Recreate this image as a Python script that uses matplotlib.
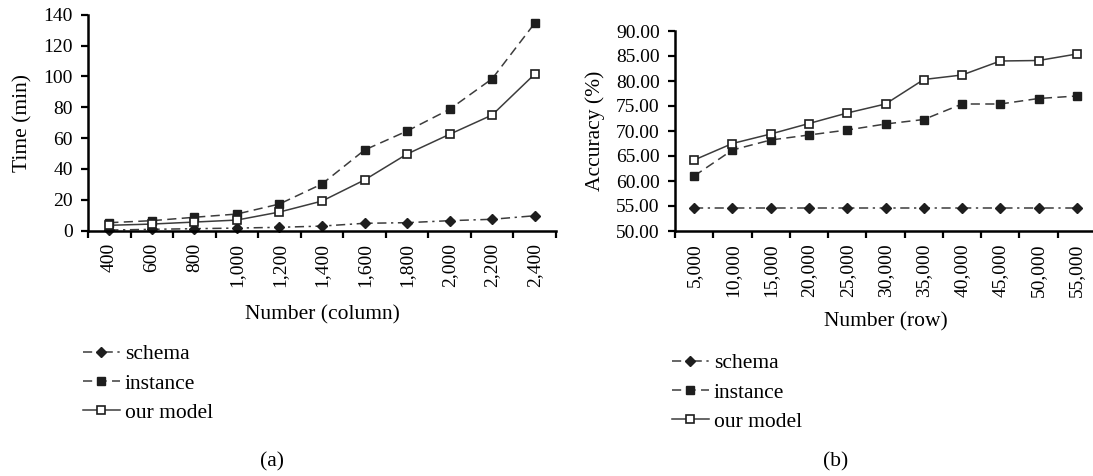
import matplotlib
matplotlib.use("Agg")
import matplotlib.pyplot as plt
import numpy as np
from matplotlib.lines import Line2D
from matplotlib.ticker import FormatStrFormatter

plt.rcParams['font.family'] = ['Liberation Serif', 'DejaVu Serif']

# (a) running time vs number of columns
col_labels = ['400', '600', '800', '1,000', '1,200', '1,400', '1,600',
              '1,800', '2,000', '2,200', '2,400']
schema_time = [0.4, 0.9, 1.3, 1.7, 2.2, 3.0, 4.8, 5.2, 6.5, 7.4, 9.7]
instance_time = [5.2, 6.5, 8.7, 10.8, 17.3, 30.3, 52.3, 64.6, 78.7, 98.5, 134.5]
model_time = [3.5, 4.3, 5.6, 6.9, 12.1, 19.2, 32.9, 49.7, 62.5, 75.0, 101.5]

# (b) accuracy vs number of rows
row_labels = ['5,000', '10,000', '15,000', '20,000', '25,000', '30,000',
              '35,000', '40,000', '45,000', '50,000', '55,000']
schema_acc = [54.65, 54.65, 54.65, 54.65, 54.65, 54.65, 54.65, 54.65, 54.65, 54.65, 54.65]
instance_acc = [61.0, 66.2, 68.2, 69.2, 70.2, 71.4, 72.3, 75.4, 75.4, 76.5, 77.0]
model_acc = [64.2, 67.5, 69.4, 71.5, 73.6, 75.4, 80.3, 81.2, 84.0, 84.1, 85.4]

series_names = ['schema', 'instance', 'our model']

W, H = 1093, 476
fig = plt.figure(figsize=(W / 100, H / 100), dpi=100)

line_col = '#3c3c3c'
mark_col = '#1e1e1e'
styles = [
    dict(linestyle=(0, (6, 3, 1.5, 3)), marker='D', markersize=4.8,
         markerfacecolor=mark_col, markeredgecolor=mark_col),
    dict(linestyle=(0, (6, 3.5)), marker='s', markersize=6.3,
         markerfacecolor=mark_col, markeredgecolor=mark_col),
    dict(linestyle='-', marker='s', markersize=6.3, markerfacecolor='white',
         markeredgecolor=mark_col, markeredgewidth=1.2),
]


def style_axes(ax, labels, ylo, yhi, ystep):
    n = len(labels)
    ax.set_xlim(-0.5, n - 0.5)
    ax.set_ylim(ylo, yhi)
    ax.set_yticks(np.arange(ylo, yhi + ystep / 2, ystep))
    ax.set_xticks(np.arange(-0.5, n, 1.0))
    ax.set_xticklabels([])
    ax.set_xticks(np.arange(n), minor=True)
    ax.set_xticklabels(labels, minor=True, rotation=90, fontsize=14)
    ax.tick_params(axis='x', which='minor', length=0, pad=9)
    ax.tick_params(axis='x', which='major', length=5, width=1.6, direction='out')
    ax.tick_params(axis='y', length=5, width=1.6, direction='out', labelsize=14, pad=6)
    for s in ['top', 'right']:
        ax.spines[s].set_visible(False)
    for s in ['left', 'bottom']:
        ax.spines[s].set_linewidth(1.8)


def plot_series(ax, data):
    x = np.arange(len(data[0]))
    for vals, st in zip(data, styles):
        ax.plot(x, vals, color=line_col, linewidth=1.1, clip_on=False, **st)


ax1 = fig.add_axes([88 / W, 1 - 230.7 / H, 468 / W, 216 / H])
plot_series(ax1, [schema_time, instance_time, model_time])
style_axes(ax1, col_labels, 0, 140, 20)
ax1.set_ylabel('Time (min)', fontsize=15.5)
ax1.yaxis.set_label_coords(-0.119, 0.5)
ax1.set_xlabel('Number (column)', fontsize=15.5, labelpad=13)

ax2 = fig.add_axes([675 / W, 1 - 231 / H, 421 / W, 200 / H])
plot_series(ax2, [schema_acc, instance_acc, model_acc])
style_axes(ax2, row_labels, 50, 90, 5)
ax2.yaxis.set_major_formatter(FormatStrFormatter('%.2f'))
ax2.set_ylabel('Accuracy (%)', fontsize=15.5)
ax2.yaxis.set_label_coords(-0.166, 0.5)
ax2.set_xlabel('Number (row)', fontsize=15.5, labelpad=11)

handles = [Line2D([], [], color=line_col, linewidth=1.1, **st) for st in styles]
leg_kw = dict(frameon=False, fontsize=15.5, handlelength=1.7, handletextpad=0.25,
              labelspacing=0.42, borderpad=0, borderaxespad=0, numpoints=1,
              loc='center left')
fig.legend(handles, series_names, bbox_to_anchor=(83 / W, 1 - 383.5 / H), **leg_kw)
fig.legend(handles, series_names, bbox_to_anchor=(672 / W, 1 - 392.5 / H), **leg_kw)

fig.text(272 / W, 1 - 462 / H, '(a)', fontsize=15.5, ha='center', va='center')
fig.text(836 / W, 1 - 462 / H, '(b)', fontsize=15.5, ha='center', va='center')

fig.savefig('out.png', dpi=100)
